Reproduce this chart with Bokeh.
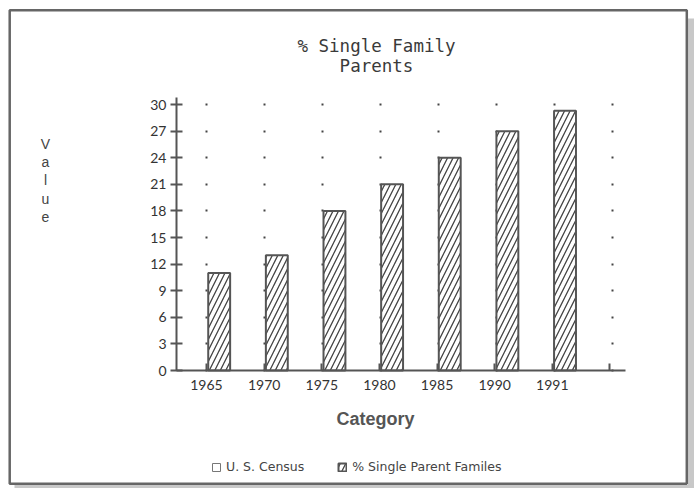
from bokeh.plotting import figure
from bokeh.models import (Range1d, FixedTicker, Label, Legend, LegendItem,
                          ColumnDataSource, BoxAnnotation)
from bokeh.embed import file_html
from bokeh.resources import INLINE

# ---- data ----
categories = ["1965", "1970", "1975", "1980", "1985", "1990", "1991"]
single_parent_pct = [11, 13, 18, 21, 24, 27, 29.3]
us_census = [0, 0, 0, 0, 0, 0, 0]  # the U. S. Census series shows no visible bars
y_ticks = [0, 3, 6, 9, 12, 15, 18, 21, 24, 27, 30]
title_lines = ["% Single Family", "Parents"]
y_label = "V\na\nl\nu\ne"
x_label = "Category"
series_names = ["U. S. Census", "% Single Parent Familes"]

# ---- layout (page pixels; the canvas sits at the page origin) ----
W, H = 694, 488
PX_SLOT, PX_UNIT = 57.64, 8.865
X0, Y0 = 206, 370          # page pixel of x=0 / y=0


def dx(px):
    return (px - X0) / PX_SLOT


def dy(py):
    return (Y0 - py) / PX_UNIT


AX = "#555555"
TXT = "#333333"
n = len(categories)

p = figure(width=W, height=H,
           x_range=Range1d(dx(0), dx(W)), y_range=Range1d(dy(H), dy(0)),
           output_backend="svg", toolbar_location=None, title=None,
           min_border=0, min_border_left=0, min_border_right=0,
           min_border_top=0, min_border_bottom=0)
p.outline_line_color = None
p.background_fill_color = "white"
p.border_fill_color = "white"

# page frame with a soft shadow
p.add_layout(BoxAnnotation(left=dx(687.5), right=dx(W), top=dy(18), bottom=dy(H),
                           fill_color="#c8c8c8", fill_alpha=1, line_color=None,
                           level="underlay"))
p.add_layout(BoxAnnotation(left=dx(14), right=dx(W), top=dy(484.5), bottom=dy(H),
                           fill_color="#c8c8c8", fill_alpha=1, line_color=None,
                           level="underlay"))
p.add_layout(BoxAnnotation(left=dx(9.2), right=dx(686.3), top=dy(9.7), bottom=dy(483.3),
                           fill_alpha=0, line_color="#666666", line_width=2.5,
                           line_alpha=1))

# bars
census_src = ColumnDataSource(dict(x=[i - 0.16 for i in range(n)], top=us_census))
census = p.vbar(x="x", top="top", width=0.38, source=census_src,
                fill_color="white", line_color="#777777", line_width=1)
src = ColumnDataSource(dict(x=[i + 0.22 for i in range(n)], top=single_parent_pct))
bars = p.vbar(x="x", top="top", width=0.38, source=src,
              fill_color="white", hatch_pattern="/", hatch_color="#444444",
              hatch_scale=11, hatch_weight=1.3,
              line_color=AX, line_width=2)

x_lo, x_hi = dx(176), dx(625)
y_top = dy(97)

# x axis
xt = FixedTicker(ticks=list(range(n + 1)))
p.xaxis.ticker = xt
overrides = {i: c for i, c in enumerate(categories)}
overrides[n] = ""
p.xaxis.major_label_overrides = overrides
p.xaxis.fixed_location = 0
p.xaxis.bounds = (x_lo, x_hi)
p.xaxis.axis_line_color = AX
p.xaxis.axis_line_width = 2
p.xaxis.major_tick_line_color = AX
p.xaxis.major_tick_line_width = 2
p.xaxis.major_tick_in = 7
p.xaxis.major_tick_out = 0
p.xaxis.minor_tick_line_color = None
p.xaxis.major_label_standoff = 9
p.xaxis.major_label_text_font = "Lato"
p.xaxis.major_label_text_font_size = "14px"
p.xaxis.major_label_text_color = TXT

# y axis
yt = FixedTicker(ticks=y_ticks)
p.yaxis.ticker = yt
p.yaxis.fixed_location = x_lo
p.yaxis.bounds = (0, y_top)
p.yaxis.axis_line_color = AX
p.yaxis.axis_line_width = 2
p.yaxis.major_tick_line_color = AX
p.yaxis.major_tick_line_width = 2
p.yaxis.major_tick_in = 6
p.yaxis.major_tick_out = 6
p.yaxis.minor_tick_line_color = None
p.yaxis.major_label_standoff = 4
p.yaxis.major_label_text_font = "Lato"
p.yaxis.major_label_text_font_size = "14px"
p.yaxis.major_label_text_color = TXT

# dotted grid: dots at every category tick on every value tick
p.xgrid.visible = False
try:
    p.ygrid.cross_bounds = (x_lo, x_hi)
    p.ygrid.ticker = yt
    p.ygrid.bounds = (0, y_top)
    p.ygrid.grid_line_color = "#444444"
    p.ygrid.grid_line_width = 2
    p.ygrid.grid_line_dash = "2 56"
    p.ygrid.grid_line_dash_offset = 29
except AttributeError:
    p.ygrid.visible = False
    gx = [t for t in range(n + 1) for _ in y_ticks[1:]]
    gy = [v for _ in range(n + 1) for v in y_ticks[1:]]
    p.scatter(gx, gy, marker="square", size=2, color="#444444", level="underlay")

# texts
for txt, yy in zip(title_lines, [45, 65]):
    p.add_layout(Label(x=dx(376), y=dy(yy), text=txt,
                       text_align="center", text_baseline="middle",
                       text_font="DejaVu Sans Mono", text_font_size="17.5px",
                       text_color="#3a3a3a"))
p.add_layout(Label(x=dx(45), y=dy(180), text=y_label,
                   text_align="center", text_baseline="middle", text_line_height=1.15,
                   text_font="Liberation Sans", text_font_size="14px", text_color="#444444"))
p.add_layout(Label(x=dx(375), y=dy(418), text=x_label,
                   text_align="center", text_baseline="middle",
                   text_font="Liberation Sans", text_font_style="bold",
                   text_font_size="18px", text_color="#555555"))

legend = Legend(items=[LegendItem(label=series_names[0], renderers=[census]),
                       LegendItem(label=series_names[1], renderers=[bars])],
                location=(211, H - 474), orientation="horizontal",
                padding=0, margin=0, spacing=33,
                glyph_width=10, glyph_height=10, label_standoff=5, label_height=10,
                label_text_font="DejaVu Sans", label_text_font_size="12.5px",
                label_text_color="#444444",
                border_line_color=None, background_fill_alpha=0)
p.add_layout(legend)

open("out.html", "w").write(file_html(p, INLINE))
